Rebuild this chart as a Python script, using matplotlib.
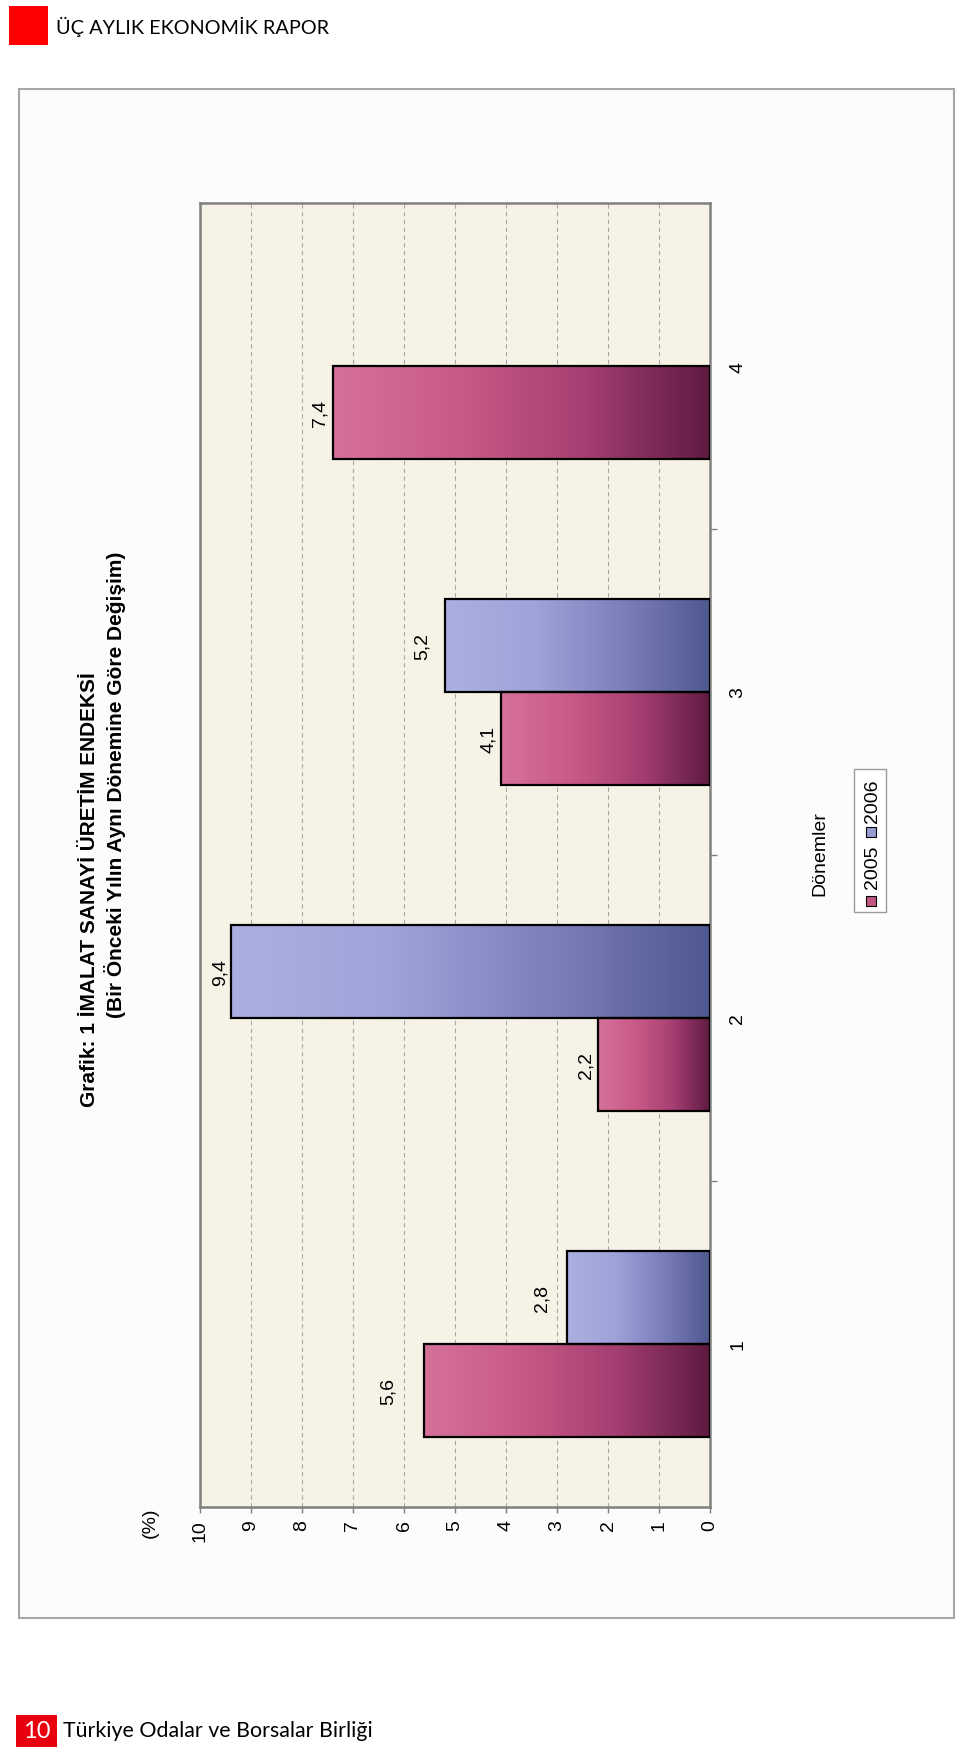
import numpy as np
import matplotlib
matplotlib.use('Agg')
import matplotlib.pyplot as plt
from matplotlib.colors import LinearSegmentedColormap
from matplotlib.patches import Rectangle

plt.rcParams['font.family'] = ['Liberation Sans', 'DejaVu Sans']

# data
periods = ['1', '2', '3', '4']
series_names = ['2005', '2006']
values_2005 = [5.6, 2.2, 4.1, 7.4]
values_2006 = [2.8, 9.4, 5.2, np.nan]
value_ticks = list(range(0, 11))

title_1 = 'Grafik: 1 İMALAT SANAYİ ÜRETİM ENDEKSİ'
title_2 = '(Bir Önceki Yılın Aynı Dönemine Göre Değişim)'
header = 'ÜÇ AYLIK EKONOMİK RAPOR'
footer = 'Türkiye Odalar ve Borsalar Birliği'
page_no = '10'

W, H = 960, 1756
fig = plt.figure(figsize=(W / 100, H / 100), dpi=100)
fig.patch.set_facecolor('white')


def fx(px):
    return px / W


def fy(py):
    return 1 - py / H


def fig_rect(x0, y0, x1, y1, **kw):
    r = Rectangle((fx(x0), fy(y1)), fx(x1) - fx(x0), fy(y0) - fy(y1),
                  transform=fig.transFigure, **kw)
    fig.add_artist(r)
    return r


# page header / footer
fig_rect(9, 7, 48, 46, facecolor='#ff0000', edgecolor='none')
fig.text(fx(56), fy(27), header, fontsize=14.3, family='Lato', va='center', ha='left')
fig_rect(16, 1716, 57, 1748, facecolor='#e8000f', edgecolor='none')
fig.text(fx(36.5), fy(1732), page_no, fontsize=17, family='Lato', color='white',
         va='center', ha='center')
fig.text(fx(63), fy(1731), footer, fontsize=15.4, family='Lato', va='center', ha='left')

# outer frame of the (rotated) chart, kept behind the axes
fig_rect(19, 90, 954, 1619, facecolor='#fcfcfc', edgecolor='#a6a6a6', lw=1.5, zorder=-5)

# plot area
ax = fig.add_axes([fx(200), fy(1508), (710 - 200) / W, (1508 - 204) / H])
ax.set_facecolor('#f6f2e6')
ax.set_axisbelow(True)

y = np.arange(len(periods))
bh = 0.285
cmap_05 = LinearSegmentedColormap.from_list('c05', ['#5e1a40', '#a53f71', '#c95a88', '#d5719a'])
cmap_06 = LinearSegmentedColormap.from_list('c06', ['#4f5890', '#7d7fbb', '#9fa3d8', '#abafe0'])
grad = np.linspace(0, 1, 256).reshape(1, -1)

# label distance from bar end (px)
pads_2005 = [28, 3, 4, 4]
pads_2006 = [17, 2, 14, 0]

for vals, off, cmap, pads in [(values_2005, -bh / 2, cmap_05, pads_2005),
                              (values_2006, bh / 2, cmap_06, pads_2006)]:
    vals = np.array(vals, dtype=float)
    ok = ~np.isnan(vals)
    bars = ax.barh(y[ok] + off, vals[ok], height=bh, facecolor='none',
                   edgecolor='black', lw=1.6, zorder=3)
    for b, v in zip(bars, vals[ok]):
        ax.imshow(grad, cmap=cmap, extent=(0, v, b.get_y(), b.get_y() + bh),
                  aspect='auto', zorder=2, interpolation='bilinear')
    for yi, v, p in zip(y[ok], vals[ok], np.array(pads)[ok]):
        ax.annotate(f'{v:.1f}'.replace('.', ','), (v, yi + off), xytext=(-p * 0.72, 0),
                    textcoords='offset points', ha='right', va='center',
                    rotation=90, fontsize=14, zorder=4)

ax.set_xlim(10, 0)
ax.set_ylim(-0.5, 3.5)

ax.set_xticks(value_ticks)
ax.set_xticklabels([str(t) for t in value_ticks], rotation=90, fontsize=14)
ax.tick_params(axis='x', length=4, width=1, color='#808080', pad=5)
ax.grid(axis='x', color='#a8a8a8', linestyle=(0, (4, 3)), lw=0.8)

ax.yaxis.tick_right()
ax.set_yticks(y)
ax.set_yticklabels(periods, rotation=90, fontsize=14, va='center')
ax.tick_params(axis='y', which='major', length=0, pad=14)
ax.set_yticks(y[:-1] + 0.5, minor=True)
ax.tick_params(axis='y', which='minor', length=5, width=1, color='#808080')

for s in ax.spines.values():
    s.set_color('#808080')
    s.set_linewidth(1.8)

# titles (rotated chart)
fig.text(fx(90), fy(890), title_1, rotation=90, ha='center', va='center',
         fontsize=15, fontweight='bold')
fig.text(fx(115), fy(785), title_2, rotation=90, ha='center', va='center',
         fontsize=15, fontweight='bold')
fig.text(fx(150), fy(1523), '(%)', rotation=90, ha='center', va='center', fontsize=14)
fig.text(fx(820), fy(854), 'Dönemler', rotation=90, ha='center', va='center', fontsize=14)

# legend (rotated)
fig_rect(854, 770, 886, 913, facecolor='white', edgecolor='#9a9a9a', lw=1)
fig_rect(866, 897, 876, 907, facecolor=cmap_05(0.6), edgecolor='black', lw=0.8)
fig_rect(866, 828, 876, 838, facecolor=cmap_06(0.6), edgecolor='black', lw=0.8)
fig.text(fx(872), fy(867), series_names[0], rotation=90, ha='center', va='center', fontsize=14)
fig.text(fx(872), fy(801), series_names[1], rotation=90, ha='center', va='center', fontsize=14)

fig.savefig('out.png', dpi=100)
